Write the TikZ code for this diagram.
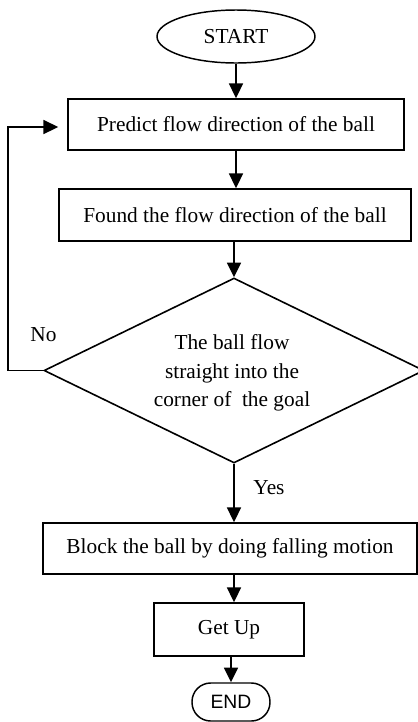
\documentclass[tikz,border=0pt]{standalone}
\usepackage{fontspec}
\setmainfont{Liberation Serif}
\newfontfamily\termfont{Liberation Sans}
\usetikzlibrary{shapes.geometric,arrows.meta}

\tikzset{
  flowline/.style={line width=1.3pt},
  arrowline/.style={flowline,-{Triangle[length=11pt,width=10.5pt]}},
  procbox/.style={draw,flowline,rectangle,inner sep=0pt,align=center,
    font=\fontsize{16}{19}\selectfont},
  decbox/.style={draw,line width=1.2pt,diamond,inner sep=0pt},
  dectext/.style={align=center,inner sep=0pt,font=\fontsize{16}{21.3}\selectfont},
  startbox/.style={draw,line width=1.1pt,ellipse,inner sep=0pt,
    font=\fontsize{16}{19}\selectfont},
  endbox/.style={draw,line width=1.1pt,rectangle,rounded corners=14pt,inner sep=0pt,
    font=\termfont\fontsize{14.5}{17}\selectfont},
  lbl/.style={font=\fontsize{16}{19}\selectfont,inner sep=0pt}
}

\begin{document}
\begin{tikzpicture}[x=0.75pt,y=-0.75pt]
\useasboundingbox (0,0) rectangle (418,722);

% nodes
\node[startbox,minimum width=118.5pt,minimum height=39.75pt] (start) at (236,36.5) {START};
\node[procbox,minimum width=252pt,minimum height=38.25pt] (predict) at (236,124.5)
  {Predict flow direction of the ball};
\node[procbox,minimum width=264pt,minimum height=39pt] (found) at (235,215)
  {Found the flow direction of the ball};
\node[decbox,minimum width=285pt,minimum height=138.75pt] (goal) at (234,370.5) {};
\node[dectext] (goaltext) at (232,373)
  {The ball flow\\straight into the\\corner of\ \ the goal};
\node[procbox,minimum width=280.5pt,minimum height=38.25pt] (block) at (230,548.5)
  {Block the ball by doing falling motion};
\node[procbox,minimum width=112.5pt,minimum height=39.75pt] (getup) at (229,629.5)
  {Get Up};
\node[endbox,minimum width=58.5pt,minimum height=28.5pt] (end) at (231,702) {END};

% labels
\node[lbl] (no) at (43.5,335) {No};
\node[lbl] (yes) at (269,488) {Yes};

% connectors
\draw[arrowline] (start.south -| predict.north) -- (predict.north);
\draw[arrowline] (predict.south) -- (found.north -| predict.south);
\draw[arrowline] (found.south -| goal.north) -- (goal.north);
\draw[arrowline] (goal.south) -- (block.north -| goal.south);
\draw[arrowline] (block.south -| goal.south) -- (getup.north -| goal.south);
\draw[arrowline] (getup.south -| end.north) -- (end.north);
\coordinate (loopcorner) at (8,127);
\draw[arrowline,shorten >=6.75pt] (goal.west) -| (loopcorner) -- (loopcorner -| predict.west);
\end{tikzpicture}
\end{document}
